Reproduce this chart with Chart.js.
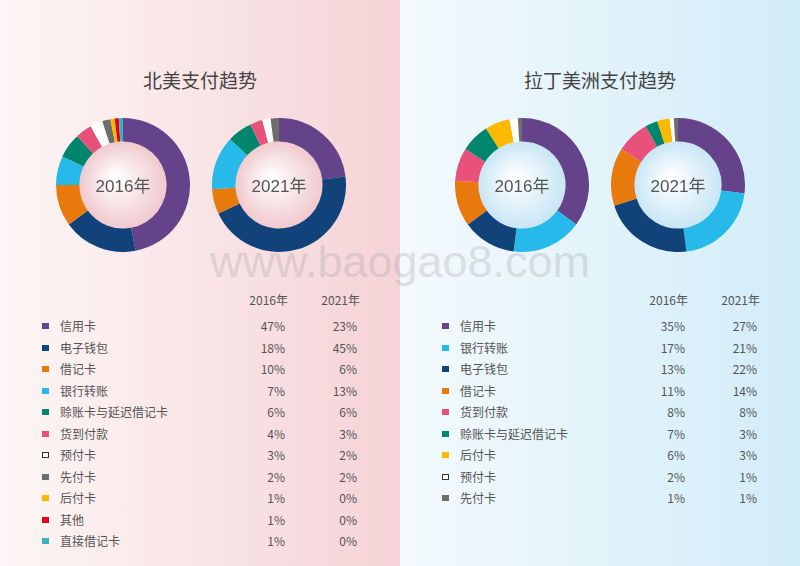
<!DOCTYPE html>
<html><head><meta charset="utf-8">
<script src="https://cdn.jsdelivr.net/npm/chart.js@4"></script>
<style>
body{margin:0;width:800px;height:566px;overflow:hidden;font-family:"Noto Sans CJK SC","Noto Sans",sans-serif;position:relative}
.panel{position:absolute;top:0;width:400px;height:566px}
#pl{left:0;background:linear-gradient(90deg,#fdf6f6,#f5d3d6)}
#pr{left:400px;background:linear-gradient(90deg,#f3fafd,#d2ecf8)}
.title{position:absolute;top:66px;width:400px;text-align:center;font-size:19px;color:#444}
.donut{position:absolute;width:134px;height:134px}
.ct{position:absolute;width:134px;text-align:center;top:54px;font-size:17px;color:#555;font-family:"Liberation Sans","Noto Sans CJK SC",sans-serif;pointer-events:none}
.row{position:absolute;font-size:12px;color:#555;height:16px;line-height:16px}
.mk{position:absolute;width:7px;height:6px;top:5px}
.wm{position:absolute;top:244px;left:0;width:800px;height:36px;line-height:36px;text-align:center;font-size:45px;color:rgba(160,160,160,0.3);font-family:"Liberation Sans",sans-serif}
</style></head><body>
<div class="panel" id="pl"><div class="title">北美支付趋势</div></div>
<div class="panel" id="pr"><div class="title">拉丁美洲支付趋势</div></div>
<div class="wm">www.baogao8.com</div>
<script>
const naLabels = ['信用卡','电子钱包','借记卡','银行转账','赊账卡与延迟借记卡','货到付款','预付卡','先付卡','后付卡','其他','直接借记卡'];
const na2016 = [47,18,10,7,6,4,3,2,1,1,1];
const na2021 = [23,45,6,13,6,3,2,2,0,0,0];
const naColors = ['#65438a','#12427a','#e8790c','#27b9ea','#00866c','#e8527a','#ffffff','#6d6d6d','#fbb900','#e3001b','#3bb2c0'];
const laLabels = ['信用卡','银行转账','电子钱包','借记卡','货到付款','赊账卡与延迟借记卡','后付卡','预付卡','先付卡'];
const la2016 = [35,17,13,11,8,7,6,2,1];
const la2021 = [27,21,22,14,8,3,3,1,1];
const laColors = ['#65438a','#27b9ea','#12427a','#e8790c','#e8527a','#00866c','#fbb900','#ffffff','#6d6d6d'];
const years = ['2016年','2021年'];

const innerFill = {
  id:'innerFill',
  beforeDatasetsDraw(chart, args, opts){
    const m = chart.getDatasetMeta(0).data[0];
    if(!m) return;
    const c = chart.ctx;
    const g = c.createRadialGradient(m.x-8,m.y-8,2,m.x,m.y,m.innerRadius);
    g.addColorStop(0,'#ffffff'); g.addColorStop(1,opts.color);
    c.save(); c.beginPath(); c.arc(m.x,m.y,m.innerRadius,0,Math.PI*2); c.fillStyle=g; c.fill(); c.restore();
  }
};

function donut(cx, values, colors, year, tint){
  const d = document.createElement('div');
  d.className='donut'; d.style.left=(cx-67)+'px'; d.style.top='118px';
  const cv = document.createElement('canvas'); d.appendChild(cv);
  const t = document.createElement('div'); t.className='ct'; t.textContent=year; d.appendChild(t);
  document.body.appendChild(d);
  new Chart(cv,{type:'doughnut',
    data:{labels:values.map((v,i)=>i),datasets:[{data:values,backgroundColor:colors,borderWidth:0}]},
    options:{responsive:true,maintainAspectRatio:false,animation:false,cutout:'65%',
      layout:{padding:0},plugins:{legend:{display:false},tooltip:{enabled:false},innerFill:{color:tint}}},
    plugins:[innerFill]});
}
donut(123,na2016,naColors,years[0],'#f0c9cd');
donut(279,na2021,naColors,years[1],'#f0c9cd');
donut(522,la2016,laColors,years[0],'#c8e6f5');
donut(678,la2021,laColors,years[1],'#c8e6f5');

function table(x0, labels, a, b, colors){
  const add=(html,left,top,w,align)=>{const e=document.createElement('div');e.className='row';
    e.style.left=left+'px';e.style.top=top+'px';if(w){e.style.width=w+'px';e.style.textAlign=align;}
    e.innerHTML=html;document.body.appendChild(e);return e;};
  add(years[0],x0+238,292,50,'right');
  add(years[1],x0+310,292,50,'right');
  labels.forEach((l,i)=>{
    const y=318+i*21.5;
    const m=add('',x0+42,y);
    const mk=document.createElement('div');mk.className='mk';mk.style.background=colors[i];
    if(colors[i]==='#ffffff') mk.style.border='1px solid #333',mk.style.width='5px',mk.style.height='4px';
    m.appendChild(mk);
    add(l,x0+60,y);
    add(a[i]+'%',x0+240,y,45,'right');
    add(b[i]+'%',x0+310,y,47,'right');
  });
}
table(0,naLabels,na2016,na2021,naColors);
table(400,laLabels,la2016,la2021,laColors);
</script></body></html>
